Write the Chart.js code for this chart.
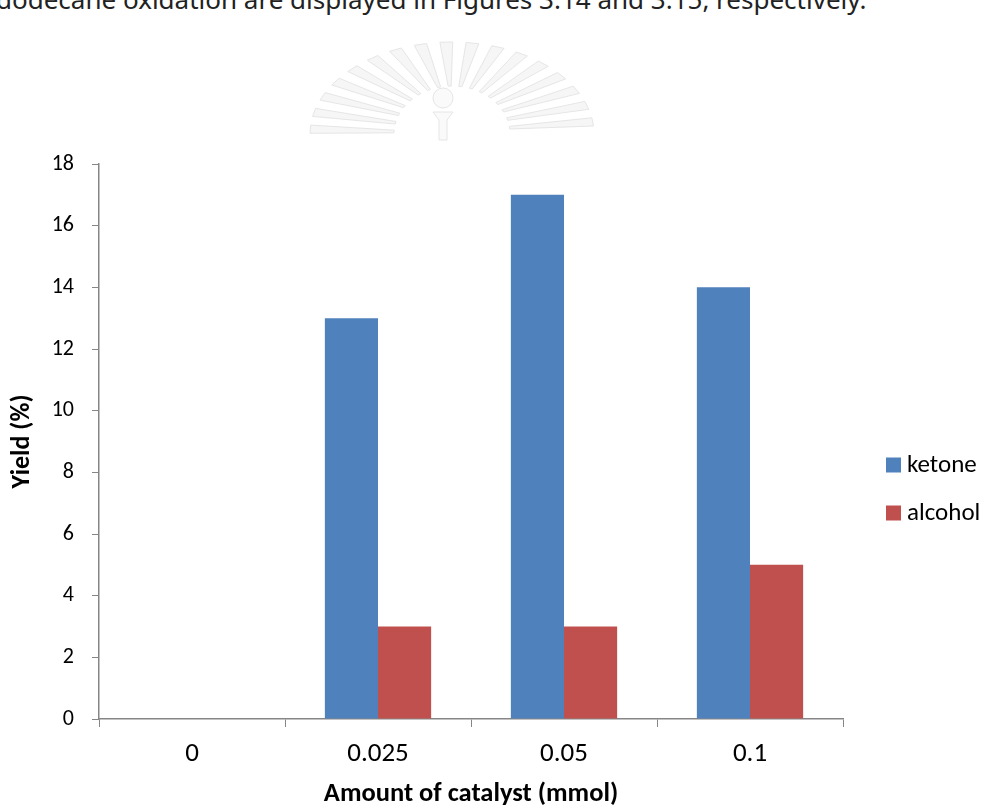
<!DOCTYPE html>
<html>
<head>
<meta charset="utf-8">
<script src="https://cdn.jsdelivr.net/npm/chart.js@4"></script>
<style>
  html, body { margin: 0; padding: 0; background: #fff; }
  #page { position: relative; width: 986px; height: 808px; overflow: hidden; }
  #lead { position: absolute; left: -4px; top: -19px; font-family: "Noto Sans", sans-serif;
          font-size: 26px; color: #222; white-space: nowrap; }
  #emblem { position: absolute; left: 0; top: 0; }
  #myChart { position: absolute; left: 0; top: 0; }
</style>
</head>
<body>
<div id="page">
  <div id="lead">dodecane oxidation are displayed in Figures 3.14 and 3.15, respectively.</div>
  <svg id="emblem" width="986" height="160"></svg>
  <canvas id="myChart" width="986" height="808"></canvas>
</div>
<script>
const categories = ['0', '0.025', '0.05', '0.1'];
const ketone = [0, 13, 17, 14];
const alcohol = [0, 3, 3, 5];
const yTicks = [0, 2, 4, 6, 8, 10, 12, 14, 16, 18];

const axisGrey = '#868686';
const font = 'Carlito, Lato, "Open Sans", sans-serif';

// faint sunburst seal behind the heading area
(function drawEmblem() {
    const svg = document.getElementById('emblem');
    const cx = 452, cy = 134;
    const n = 17;
    let out = '';
    for (let k = 0; k < n; k++) {
        const a = Math.PI + (k + 0.5) * Math.PI / n - 0.04;
        const w = 0.045;
        const pt = (rx, ry, t) => [cx + rx * Math.cos(t), cy + ry * Math.sin(t)].map(v => v.toFixed(1)).join(',');
        const p = [pt(58, 48, a - w * 0.6), pt(142, 92, a - w), pt(142, 92, a + w), pt(58, 48, a + w * 0.6)];
        out += '<polygon points="' + p.join(' ') + '" fill="#f6f6f6" stroke="#e6e6e6" stroke-width="1"/>';
    }
    out += '<circle cx="' + (cx - 9) + '" cy="' + (cy - 36) + '" r="10" fill="#fafafa" stroke="#e6e6e6" stroke-width="1"/>';
    out += '<path d="M' + (cx - 19) + ' ' + (cy - 22) + ' h20 l-6 8 v20 h-8 v-20 z" fill="#fafafa" stroke="#e6e6e6" stroke-width="1"/>';
    svg.innerHTML = out;
})();

// legend drawn at the right, beside the plot
const sideLegend = {
    id: 'sideLegend',
    afterDraw(chart) {
        const c = chart.ctx;
        c.save();
        c.font = '25px ' + font;
        c.textBaseline = 'middle';
        chart.data.datasets.forEach((ds, i) => {
            const y = 465 + i * 48;
            c.fillStyle = ds.backgroundColor;
            c.fillRect(886, y - 7.5, 15, 15);
            c.fillStyle = '#000';
            c.fillText(ds.label, 907, y + 1);
        });
        c.restore();
    }
};

const ctx = document.getElementById('myChart').getContext('2d');
const myChart = new Chart(ctx, {
    type: 'bar',
    data: {
        labels: categories,
        datasets: [{
            label: 'ketone',
            data: ketone,
            backgroundColor: '#4F81BD'
        }, {
            label: 'alcohol',
            data: alcohol,
            backgroundColor: '#C0504D'
        }]
    },
    options: {
        responsive: false,
        animation: false,
        categoryPercentage: 2 / 3.5,
        barPercentage: 1,
        layout: { padding: { left: 0, right: 143, top: 164, bottom: 0 } },
        plugins: {
            legend: { display: false },
            tooltip: { enabled: false }
        },
        scales: {
            x: {
                offset: true,
                grid: { offset: true, drawOnChartArea: false, color: axisGrey, tickLength: 8 },
                border: { color: axisGrey, width: 1.5 },
                ticks: { color: '#000', font: { family: font, size: 27 }, padding: 11 },
                title: {
                    display: true, text: 'Amount of catalyst (mmol)', color: '#000',
                    font: { family: font, size: 26.5, weight: 'bold' }, padding: { top: 0, bottom: -2 }
                },
                afterFit(scale) { scale.height = 89; }
            },
            y: {
                min: 0, max: 18,
                afterBuildTicks(scale) { scale.ticks = yTicks.map(v => ({ value: v })); },
                grid: { drawOnChartArea: false, color: axisGrey, tickLength: 7 },
                border: { color: axisGrey, width: 1.5 },
                ticks: { color: '#000', font: { family: font, size: 22 }, padding: 18 },
                title: {
                    display: true, text: 'Yield (%)', color: '#000',
                    font: { family: font, size: 26, weight: 'bold' }, padding: { top: 7 }
                },
                afterFit(scale) { scale.width = 99; }
            }
        }
    },
    plugins: [sideLegend]
});
</script>
</body>
</html>
